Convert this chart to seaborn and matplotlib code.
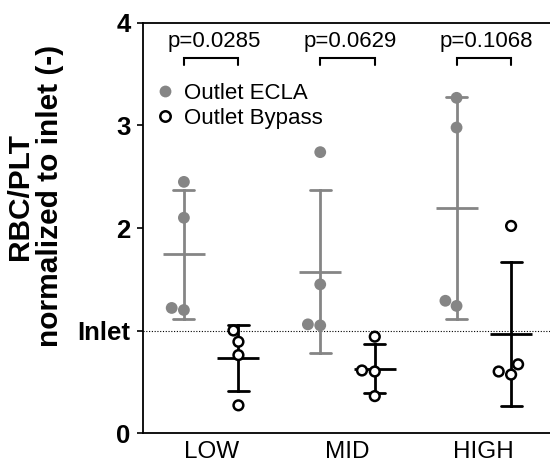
import numpy as np
import pandas as pd
import seaborn as sns
import matplotlib.pyplot as plt
from matplotlib.lines import Line2D

# values
groups = ['LOW', 'MID', 'HIGH']
series = ['Outlet ECLA', 'Outlet Bypass']
ecla = {'LOW': [2.45, 2.10, 1.20, 1.22],
        'MID': [2.74, 1.45, 1.05, 1.06],
        'HIGH': [3.27, 2.98, 1.24, 1.29]}
bypass = {'LOW': [1.00, 0.89, 0.76, 0.27],
          'MID': [0.94, 0.61, 0.60, 0.36],
          'HIGH': [2.02, 0.67, 0.57, 0.60]}
p_values = ['p=0.0285', 'p=0.0629', 'p=0.1068']
ytick_vals = [0, 1, 2, 3, 4]
ytick_labels = ['0', 'Inlet', '2', '3', '4']

grey = '#858585'

rows = []
for g in groups:
    for v in ecla[g]:
        rows.append((g, series[0], v))
    for v in bypass[g]:
        rows.append((g, series[1], v))
df = pd.DataFrame(rows, columns=['flow', 'sample', 'ratio'])

sns.set_theme(style='ticks')
plt.rcParams['font.family'] = ['Liberation Sans', 'DejaVu Sans']
plt.rcParams.update({'text.color': 'black', 'axes.edgecolor': 'black',
                     'xtick.color': 'black', 'ytick.color': 'black',
                     'axes.labelcolor': 'black'})

fig = plt.figure(figsize=(5.5, 4.65), dpi=100)
ax = fig.add_axes([143/550, 1 - 433/465, (552 - 143)/550, (433 - 23)/465])

# inlet reference
ax.axhline(1, color='black', lw=0.8, ls=(0, (1, 1.5)), zorder=0)

# mean +- SD
sns.pointplot(data=df, x='flow', y='ratio', hue='sample', order=groups, hue_order=series,
              palette={series[0]: grey, series[1]: 'black'}, errorbar='sd', estimator='mean',
              dodge=0.4, linestyle='none', markers='_', markersize=30, markeredgewidth=2,
              capsize=0.155, err_kws={'linewidth': 2}, legend=False, ax=ax)

# individual points
sns.swarmplot(data=df[df['sample'] == series[0]], x='flow', y='ratio', hue='sample',
              order=groups, hue_order=series, palette={series[0]: grey, series[1]: 'white'},
              dodge=True, size=8.5, linewidth=0, legend=False, ax=ax, zorder=4)
sns.swarmplot(data=df[df['sample'] == series[1]], x='flow', y='ratio', hue='sample',
              order=groups, hue_order=series, palette={series[0]: grey, series[1]: 'white'},
              dodge=True, size=7, linewidth=1.8, edgecolor='black', legend=False, ax=ax, zorder=4)

# p-value brackets
for i, p in enumerate(p_values):
    ax.plot([i - 0.2, i - 0.2, i + 0.2, i + 0.2], [3.59, 3.66, 3.66, 3.59],
            color='black', lw=1.5, solid_joinstyle='miter')
    ax.text(i + 0.02, 3.82, p, ha='center', va='center', fontsize=16)

ax.set_xlim(-0.5, 2.5)
ax.set_ylim(0, 4)
ax.set_yticks(ytick_vals)
ax.set_yticklabels(ytick_labels, fontsize=18.5, fontweight='bold')
ax.tick_params(axis='y', length=4, width=1.2, pad=5)
ax.tick_params(axis='x', length=0, pad=6, labelsize=17.5)
ax.set_xlabel('')
ax.set_ylabel('')
for s in ['left', 'bottom', 'top']:
    ax.spines[s].set_linewidth(1.3)
ax.spines['right'].set_visible(False)

fig.text(35/550, 1 - 196/465, 'RBC/PLT\nnormalized to inlet (-)', rotation=90,
         ha='center', va='center', multialignment='center', fontsize=21.5,
         fontweight='bold', linespacing=1.05)

handles = [Line2D([], [], marker='o', ls='none', color=grey, markersize=8.5, markeredgewidth=0),
           Line2D([], [], marker='o', ls='none', markerfacecolor='white',
                  markeredgecolor='black', markersize=7.5, markeredgewidth=1.8)]
ax.legend(handles, series, loc='upper left', bbox_to_anchor=(0.027, 0.853), frameon=False,
          fontsize=16, handlelength=1, handletextpad=0.35, borderpad=0, borderaxespad=0,
          labelspacing=0.15)

fig.savefig('out.png', dpi=100)
